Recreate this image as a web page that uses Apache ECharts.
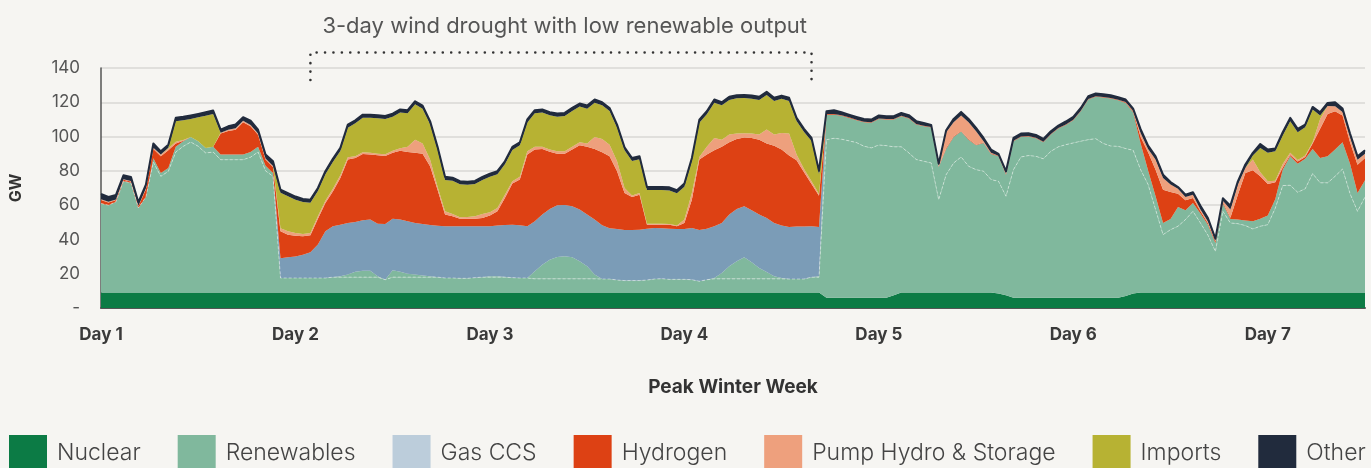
<!DOCTYPE html>
<html>
<head>
<meta charset="utf-8">
<title>Peak Winter Week</title>
<script src="https://cdn.jsdelivr.net/npm/echarts@6/dist/echarts.min.js"></script>
<style>
  html, body { margin: 0; padding: 0; background: #f6f5f2; }
  #chart { width: 1371px; height: 468px; }
</style>
</head>
<body>
<div id="chart"></div>
<script>
// hourly supply, GW (rows are 24 points each)
const dayLabels = ['Day 1', 'Day 2', 'Day 3', 'Day 4', 'Day 5', 'Day 6', 'Day 7'];
const yTicks = [0, 20, 40, 60, 80, 100, 120, 140];

const nuclear = [
  9,9,9,9,9,9,9,9,9,9,9,9,9,9,9,9,9,9,9,9,9,9,9,9,
  9,9,9,9,9,9,9,9,9,9,9,9,9,9,9,9,9,9,9,9,9,9,9,9,
  9,9,9,9,9,9,9,9,9,9,9,9,9,9,9,9,9,9,9,9,9,9,9,9,
  9,9,9,9,9,9,9,9,9,9,9,9,9,9,9,9,9,9,9,9,9,9,9,9,
  9,6,6,6,6,6,6,6,6,6,7.5,9,9,9,9,9,9,9,9,9,9,9,9,9,
  8.5,7.5,6,6,6,6,6,6,6,6,6,6,6,6,6,6,6,7,8.5,9,9,9,9,9,
  9,9,9,9,9,9,9,9,9,9,9,9,9,9,9,9,9,9,9,9,9,9,9,9,
  9,9
];
// lower renewables layer (wind)
const renewablesBase = [
  52,51,53,65,64,49.4,55.8,76,67.8,70.7,82,85.3,87.8,85.3,81.4,82,77.5,77.5,77.5,77.5,79,82,71,67.8,
  8.5,8.5,8.5,8.5,8.5,8.5,8.5,9,9,9,9,9,9,9,7.5,9,9,9,9,9,9,9,8.5,8.5,
  8.3,8.3,8.7,9,9,9,9,8.7,8.5,8.5,8,8,8,8,8,8,8,8,8,7.9,7.9,7.3,7,7,
  7,7.3,7.9,8.1,7.7,7.7,7.7,7.5,6.6,7.5,8,8,8,8,8,8,8,8,8,8,7.9,7.9,7.9,9,
  9,92.2,93,92.5,91.5,90.5,88.4,87.4,89.1,88.7,86.5,85,81.5,77.6,76.6,75.6,54.2,68.8,75.6,79.1,73.7,71.7,70.8,65.9,
  65.4,57.7,74.7,82.1,82.9,82.5,81,85.4,88,89.3,90.3,91.3,92.2,92.8,90,88.5,88.3,86,83.5,71.7,63,48.4,33.8,36.7,
  38.7,42.6,47.4,40.6,33.5,24,47.4,40.6,40.2,39.1,37.1,38.7,39.6,49.2,62.4,62.6,58.5,60.5,69.4,64,64,67.8,72.1,57.7,
  47.4,55.8
];
// upper renewables layer (solar / other)
const renewablesUpper = [
  0,0,0,0,0,0,0,2.4,2,2,3,3,3,3,3,3,3,3,3,3,3,3,3,2,
  0,0,0,0,0,0,0,0,0.5,1.5,3.2,3.8,3.8,0.5,0,4,3.2,2,1.5,0.9,0.5,0,0,0,
  0,0,0,0,0.5,0.5,0.1,0,0,0,4.4,8.3,11.2,12.8,13.2,12.6,10.2,7.3,2.5,0,0,0,0,0,
  0,0,0,0,0,0,0,0,0,0,0.5,3.4,7.3,10.2,12.6,9.7,6.3,4,1.5,0.5,0,0,0,0,
  0.5,14.6,13.8,13.7,13.4,13,14,14.6,15.2,15.2,15.9,17.9,20,20.4,20.4,20.7,19.1,15,15.2,14.8,15.5,14.2,16.5,15,
  14.6,12.6,16.6,11.7,11.1,10.5,9.7,9.8,10.7,11.5,13.2,17.5,23.4,24.4,26.8,27.7,26.9,26.6,22.2,15.2,8.2,7.8,6.8,6.2,
  11.2,5.4,4.9,5.5,6.1,4.9,4.5,2.3,2.4,2.9,4.5,4.4,5.3,5.2,9.3,16.9,16.7,17.5,14.4,14.5,15.5,15.6,15.6,17.5,
  10.7,9.7
];
const gasCCS = [
  0,0,0,0,0,0,0,0,0,0,0,0,0,0,0,0,0,0,0,0,0,0,0,0,
  11.5,12.1,12.5,13.5,15,19.5,27.2,29.7,30.1,30.1,29,29.4,29.8,30.7,32.5,30.1,30.4,30.6,30.1,30.1,29.9,30,30.2,30.2,
  30.4,30.4,30,29.7,29.2,29.6,30.3,30.9,30.7,30.2,29.2,29.2,29.6,30.1,29.9,29.7,30.2,30.2,32.1,31.3,29.6,29.8,29.5,29.5,
  29.7,30,29.8,29.4,29.6,29.4,29.4,30.2,29.9,29.8,30.2,29.2,30.2,30.6,29.7,30.3,31.2,31.5,31.1,30.6,30.4,30.6,30.6,29.7,
  28.8,0,0,0,0,0,0,0,0,0,0,0,0,0,0,0,0,0,0,0,0,0,0,0,
  0,0,0,0,0,0,0,0,0,0,0,0,0,0,0,0,0,0,0,0,0,0,0,0,
  0,0,0,0,0,0,0,0,0,0,0,0,0,0,0,0,0,0,0,0,0,0,0,0,
  0,0
];
const hydrogen = [
  2,1.5,1,0.8,0.8,1,4.5,5.4,9.7,10.3,2,0.2,0,0,0,0,12.3,13.8,14.5,18.9,15,7,3.6,3.5,
  15.8,13.2,12.2,10.8,9.9,15,16.6,20.3,27.3,37,37.3,38.7,37.9,39.9,39.7,38.4,40.2,40.4,40.9,41,34.3,21,6.8,5.8,
  4.3,4.3,4.3,4.8,6.2,8.3,15.8,24,26.7,41.8,41.8,38.3,33.4,30.1,29.9,33.1,37.5,39.5,41.2,42.7,42,33.7,21.6,19.3,
  20.3,2.3,1.9,2.1,2.3,1.6,3.5,16.5,41.1,43.2,44.3,44.4,42.2,40.8,40.1,42.2,43.7,43.4,45.1,44.3,41.6,38.7,31.7,24.7,
  18.2,0.3,0.3,0.3,0.3,0.3,0.3,0.3,0.3,0.3,0.3,0.3,0.3,0.3,0.3,0.3,0.3,0.6,0.4,0.4,0.4,0.4,0.3,0.3,
  0.3,0.3,0.3,0.3,0.3,0.3,0.3,0.3,0.3,0.3,0.3,0.3,0.3,0.3,0.3,0.3,0.3,0.4,0.5,3.9,10.7,15.5,19.4,15.8,
  7.8,5.8,2.9,1.3,0.9,1,0.8,0.8,14.5,27.8,29.7,24.7,18.5,9.9,1.3,0.8,1.2,1.1,3.1,17,24.7,22.4,15.6,12.5,
  16.4,13
];
const pumpHydro = [
  0.5,0.5,0.3,0.3,0.3,0.3,0.5,0.7,1,1,1,0.5,0,0,0,0,0.4,0.7,0.8,0.8,0.8,0.8,0.6,0.5,
  1.7,1.9,1.6,1.4,1.4,1.5,1.2,1.5,1.6,1.4,1,1,1,0.9,1,1.3,1.4,3,7.7,6,3.9,1.8,1.9,1.4,
  0.9,1.1,1.5,2.4,1.9,2,1.9,1.3,1.6,1.9,1.6,1.2,1.2,1.4,1.4,1.6,1.8,2,7,7.7,6.8,5.8,2.9,0.8,
  1.1,0.6,0.6,0.6,0.4,0.4,2,3.9,1.5,4.5,7.2,4.2,4.5,3.2,2.5,2.6,3,8.2,6.5,9.7,12.9,3.3,1.9,1.5,
  1,0,0,0,0,0,0,0,0,0,0,0,0,0,0,0,0.5,9.1,8.2,9,9.8,7.8,0.7,0.3,
  0,0.3,0,0,0,0,0,0,0,0,0,0,0,0,0,0,0,0.2,0.3,2.3,1.9,5.9,6.9,4.3,
  2.8,2,1.9,1,1,0.6,0.8,4.8,5.9,2.9,6.3,2.4,1.5,1,2,1.2,1,0.8,0.8,5.8,4.6,2.9,2.1,3.1,
  3,2.5
];
const imports = [
  0,0,0,0,0,0,0,0,0,0.5,12,11.5,10.5,13.9,18.8,19.2,0,0,0,0,0,0,0,0,
  20.7,20.5,19.4,18.6,17.6,14.7,15.5,15.7,14.1,17.2,19.2,20.1,20.5,20.7,20.5,19.8,20.8,19.6,20.6,20.2,20.6,21.4,18.3,19.3,
  19.3,18.8,18.8,19.8,20.8,19.6,17.7,18.3,18.4,16.8,19.6,20,20,20.2,20.6,20.9,20.8,20.3,20,19.6,19.6,19.6,22,20.1,
  19.6,19.6,19.6,19.6,19.6,18.8,19.2,18.6,20,19,20.6,20,20.2,20.5,20.6,20.3,20.2,20.2,19.6,20,19,19.6,21.6,23.5,
  11.7,0,0,0,0,0,0,0,0,0,0,0,0,0,0,0,0,0,0,0,0,0,0,0,
  0,0,0,0,0,0,0,0,0,0,0,0,0,0,0,0,0,0,0,0,0,0,0,0,
  0,0,0,0,0,0,0,0,0,0,2.3,14.2,16.6,17.1,16.6,18.5,16.1,16.5,19.1,2,0,0,0,0,
  0,0
];
const other = [
  3,2.8,2.7,2.3,2.4,2,2.2,2.5,1.9,1.8,2,2,2,2,2,2,1.8,2,2.2,2.1,2.5,2.2,2.3,2.8,
  1.8,1.8,1.8,1.8,1.8,1.8,1.8,1.8,1.8,1.8,1.8,1.8,1.8,1.8,1.8,1.8,1.8,1.8,1.8,1.8,1.8,1.8,1.8,1.8,
  1.8,1.8,1.8,1.8,1.8,1.8,1.8,1.8,1.8,1.8,1.8,1.8,1.8,1.8,1.8,1.8,1.8,1.8,1.8,1.8,1.8,1.8,1.8,1.8,
  1.8,1.8,1.8,1.8,1.8,1.8,1.8,1.8,1.8,1.8,1.8,1.8,1.8,1.8,1.8,1.8,1.8,1.8,1.8,1.8,1.8,1.8,1.8,1.8,
  1.8,1.7,2.3,1.7,1.6,1.7,1.6,1.6,1.7,1.7,1.7,1.6,1.7,1.7,1.7,1.2,1.1,1.2,1.9,2.1,1.9,2,1.9,1.9,
  1.1,1.4,1.6,1.7,1.6,1.7,1.6,1.6,1.4,1.7,1.7,1.6,1.6,1.6,1.6,1.6,1.5,1.4,1.3,2.2,1.9,1.9,1.9,1.5,
  1.1,1.3,1.4,2.3,2,1,1.5,2.2,1.9,2,1.6,2.3,1.9,1.6,1.9,1.9,2,1.6,1.5,1.9,1.8,2.3,1.9,2,
  2,2
];

// annotation: drought bracket (hour index span, GW heights)
const droughtSpan = [28.3, 95];
const bracketGW = [133, 149];
const captionGW = 164;

const hours = nuclear.map((_, i) => 'h' + i);
const FONT = 'Inter, "Noto Sans", sans-serif';

let chart = echarts.init(document.getElementById('chart'));

function area(name, data, color, extra) {
  return Object.assign({
    name: name,
    type: 'line',
    stack: 'supply',
    data: data,
    symbol: 'none',
    lineStyle: { width: 0 },
    areaStyle: { color: color, opacity: 1 },
    itemStyle: { color: color },
    emphasis: { disabled: true },
    animation: false
  }, extra || {});
}

chart.setOption({
  backgroundColor: '#f6f5f2',
  grid: { left: 101, right: 6, top: 68, bottom: 160 },
  legend: {
    left: 9,
    top: 435,
    width: 1500,
    padding: 0,
    icon: 'rect',
    itemWidth: 38,
    itemHeight: 36,
    itemGap: 37,
    selectedMode: false,
    textStyle: { fontFamily: FONT, fontSize: 23, fontWeight: 300, color: '#444', padding: [0, 0, 0, 5] },
    data: [
      { name: 'Nuclear' },
      { name: 'Renewables' },
      { name: 'Gas CCS', itemStyle: { color: '#bccddb' } },
      { name: 'Hydrogen' },
      { name: 'Pump Hydro & Storage' },
      { name: 'Imports' },
      { name: 'Other' }
    ]
  },
  xAxis: {
    type: 'category',
    data: hours,
    boundaryGap: false,
    axisLine: { lineStyle: { color: '#555', width: 2 } },
    axisTick: { show: false },
    axisLabel: {
      interval: 25,
      margin: 18,
      fontFamily: FONT,
      fontSize: 17,
      fontWeight: 'bold',
      color: '#3a3a3a',
      formatter: (v, i) => dayLabels[i / 26] || ''
    },
    name: 'Peak Winter Week',
    nameLocation: 'middle',
    nameGap: 70,
    nameTextStyle: { fontFamily: FONT, fontSize: 19, fontWeight: 'bold', color: '#333' }
  },
  yAxis: {
    type: 'value',
    min: yTicks[0],
    max: yTicks[yTicks.length - 1],
    interval: 20,
    axisLine: { show: true, lineStyle: { color: '#555', width: 1.5 } },
    axisTick: { show: false },
    splitLine: { lineStyle: { color: '#d8d7d4', width: 1.5 } },
    axisLabel: {
      margin: 21,
      fontFamily: FONT,
      fontSize: 17,
      color: '#555',
      formatter: v => (v === 0 ? '-' : v)
    },
    name: 'GW',
    nameLocation: 'middle',
    nameGap: 77,
    nameTextStyle: { fontFamily: FONT, fontSize: 16, fontWeight: 'bold', color: '#333' }
  },
  series: [
    area('Nuclear', nuclear, '#0c7b45'),
    area('Renewables', renewablesBase, '#80b89d', {
      lineStyle: { width: 1, color: 'rgba(255,255,255,0.45)', type: [3, 2] }
    }),
    area('Renewables', renewablesUpper, '#80b89d'),
    area('Gas CCS', gasCCS, '#7b9cb7'),
    area('Hydrogen', hydrogen, '#dd4114'),
    area('Pump Hydro & Storage', pumpHydro, '#eea07d'),
    area('Imports', imports, '#b7b233'),
    area('Other', other, '#212b3d', {
      lineStyle: { width: 2, color: '#212b3d', join: 'round' }
    })
  ]
});

// dotted bracket + caption above the drought period
const pLT = chart.convertToPixel({ gridIndex: 0 }, [droughtSpan[0], bracketGW[1]]);
const pRB = chart.convertToPixel({ gridIndex: 0 }, [droughtSpan[1], bracketGW[0]]);
const pCap = chart.convertToPixel({ gridIndex: 0 }, [(droughtSpan[0] + droughtSpan[1]) / 2, captionGW]);

chart.setOption({
  graphic: [
    {
      type: 'polyline',
      shape: { points: [[pLT[0], pRB[1]], [pLT[0], pLT[1]], [pRB[0], pLT[1]], [pRB[0], pRB[1]]] },
      style: { fill: null, stroke: '#333', lineWidth: 2.6, lineDash: [0.01, 8.4], lineCap: 'round' },
      silent: true
    },
    {
      type: 'text',
      x: pCap[0],
      y: pCap[1],
      style: {
        text: '3-day wind drought with low renewable output',
        fontFamily: FONT,
        fontSize: 22,
        fill: '#555',
        align: 'center',
        verticalAlign: 'middle'
      },
      silent: true
    }
  ]
});
</script>
</body>
</html>
